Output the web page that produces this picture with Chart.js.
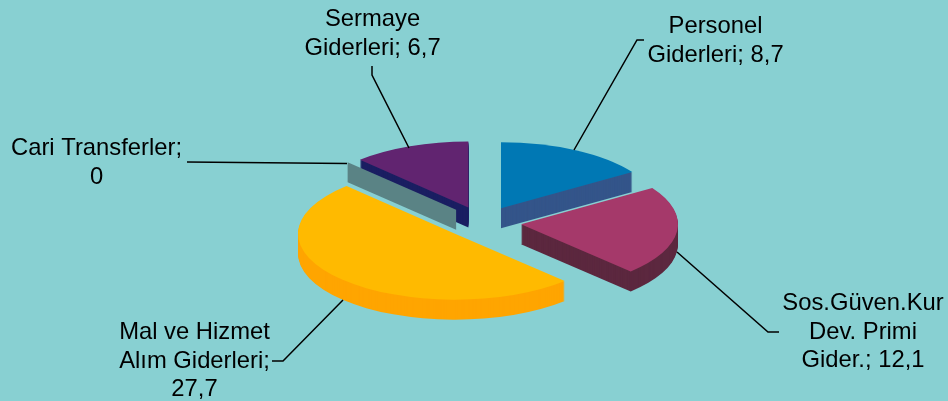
<!DOCTYPE html>
<html>
<head>
<meta charset="utf-8">
<style>html,body{margin:0;padding:0;background:#88D0D2;overflow:hidden}canvas{display:block}</style>
<script src="https://cdn.jsdelivr.net/npm/chart.js@4"></script>
</head>
<body>
<canvas id="c" width="948" height="401"></canvas>
<script>
const categories = ['Personel Giderleri','Sos.Güven.Kur Dev. Primi Gider.','Mal ve Hizmet Alım Giderleri','Cari Transferler','Sermaye Giderleri'];
const values = [8.7, 12.1, 27.7, 0, 6.7];
const topColors = ['#0078B4','#A5396A','#FFBA00','#5A8385','#612470'];
const wallColors = ['#34558A','#5C283F','#FFA500','#5A8385','#1B1F62'];
const labelLines = [
  ['Personel','Giderleri; 8,7'],
  ['Sos.Güven.Kur','Dev. Primi','Gider.; 12,1'],
  ['Mal ve Hizmet','Alım Giderleri;','27,7'],
  ['Cari Transferler;','0'],
  ['Sermaye','Giderleri; 6,7']
];
const labelCentres = [[715.5,33],[863,310],[194.5,339],[96.5,155],[372.5,26]];
const labelLeading = 28.7;
const leaders = [
  [[574,150],[637,40],[644,40]],
  [[677,252],[768,332],[779,332]],
  [[343,300],[283,361],[272,361]],
  [[187,162],[347,163.5]],
  [[409,148],[372,75],[372,66]]
];
const squash = 0.42, explodeRadial = 38.5, wallDepth = 20;
const drawOrder = [4,3,0,1,2];

const pie3d = {
  id:'pie3d',
  beforeDraw(chart){
    const c = chart.ctx;
    c.save(); c.fillStyle = '#88D0D2'; c.fillRect(0,0,chart.width,chart.height); c.restore();
  },
  beforeDatasetsDraw(chart){
    const c = chart.ctx, arcs = chart.getDatasetMeta(0).data;
    const place = (a,dy)=>{
      const mid = (a.startAngle+a.endAngle)/2;
      c.translate(a.x + Math.cos(mid)*explodeRadial, a.y + Math.sin(mid)*explodeRadial*squash + dy);
      c.scale(1,squash);
      c.translate(-a.x,-a.y);
    };
    drawOrder.forEach(i=>{
      const a = arcs[i];
      c.fillStyle = wallColors[i];
      if (a.endAngle - a.startAngle < 1e-6) {
        // a zero-sized slice shows only its flat side wall
        const rx = Math.cos(a.startAngle)*a.outerRadius, ry = Math.sin(a.startAngle)*a.outerRadius*squash;
        const ax = a.x + Math.cos(a.startAngle)*explodeRadial, ay = a.y + Math.sin(a.startAngle)*explodeRadial*squash - 1;
        c.beginPath();
        c.moveTo(ax,ay); c.lineTo(ax+rx,ay+ry); c.lineTo(ax+rx,ay+ry+wallDepth); c.lineTo(ax,ay+wallDepth);
        c.closePath(); c.fill();
        return;
      }
      for (let k=wallDepth;k>=1;k--){
        c.save(); place(a,k);
        c.beginPath(); c.moveTo(a.x,a.y);
        c.arc(a.x,a.y,a.outerRadius,a.startAngle,a.endAngle);
        c.closePath(); c.fill();
        c.restore();
      }
      c.save(); place(a,0); a.draw(c); c.restore();
    });
    return false;
  },
  afterDraw(chart){
    const c = chart.ctx;
    c.save();
    c.strokeStyle = '#000'; c.lineWidth = 1.5;
    leaders.forEach(l=>{
      c.beginPath();
      l.forEach((p,i)=> i ? c.lineTo(p[0],p[1]) : c.moveTo(p[0],p[1]));
      c.stroke();
    });
    c.fillStyle = '#000'; c.textAlign='center'; c.textBaseline='alphabetic';
    c.font = '23.8px "Liberation Sans"';
    labelLines.forEach((lines,i)=>{
      lines.forEach((t,j)=> c.fillText(t,labelCentres[i][0],labelCentres[i][1]+j*labelLeading));
    });
    c.restore();
  }
};

new Chart(document.getElementById('c'),{
  type:'pie',
  data:{labels:categories,datasets:[{data:values,backgroundColor:topColors,borderWidth:0}]},
  options:{
    responsive:false,animation:false,
    layout:{padding:{left:17.4,right:0,top:65.5,bottom:21.5}},
    plugins:{legend:{display:false},tooltip:{enabled:false}}
  },
  plugins:[pie3d]
});
</script>
</body>
</html>
